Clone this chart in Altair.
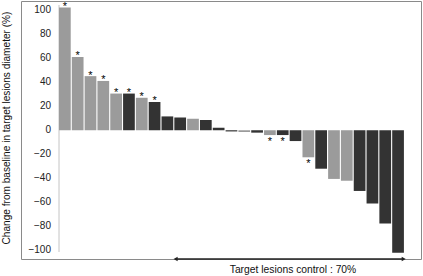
import altair as alt
import pandas as pd

# ---- data ----
patients = list(range(1, 28))
change = [102, 61, 45, 41, 30.5, 30.5, 27, 23.5, 11.5, 10.5, 9.5, 8.5, 2,
          -1, -1.5, -2, -4, -4, -9, -22.5, -32, -40.5, -42, -50.5, -61, -77.5, -102]
group = ["L", "L", "L", "L", "L", "D", "L", "D", "D", "D", "L", "D", "D",
         "D", "L", "D", "L", "D", "D", "L", "D", "L", "L", "D", "D", "D", "D"]
starred = [1, 1, 1, 1, 1, 1, 1, 1, 0, 0, 0, 0, 0,
           0, 0, 0, 1, 1, 0, 1, 0, 0, 0, 0, 0, 0, 0]
y_ticks = [-100, -80, -60, -40, -20, 0, 20, 40, 60, 80, 100]
y_title = "Change from baseline in target lesions diameter (%)"
control_label = "Target lesions control : 70%"
control_from = 9.1   # patient index where control arrow starts
control_to = 26.85

FONT = "Liberation Sans"

df = pd.DataFrame({
    "pos": [p - 1 for p in patients],
    "pos2": [p - 1 + 0.915 for p in patients],
    "mid": [p - 1 + 0.4575 for p in patients],
    "change": change,
    "group": group,
    "star": starred,
})
ticks_df = pd.DataFrame({
    "v": y_ticks,
    "label": [str(v).replace("-", "\u2212") for v in y_ticks],
})

xscale = alt.Scale(domain=[-2.965, 28.248], nice=False, zero=False)
yscale = alt.Scale(domain=[-107.1, 107.5], nice=False, zero=False)

bars = alt.Chart(df).mark_rect().encode(
    x=alt.X("pos:Q", scale=xscale, axis=None),
    x2="pos2:Q",
    y=alt.Y("change:Q", scale=yscale, axis=None),
    y2=alt.datum(0),
    color=alt.Color("group:N", scale=alt.Scale(domain=["L", "D"], range=["#9b9b9b", "#333333"]),
                    legend=None),
)

tick_labels = alt.Chart(ticks_df).mark_text(
    fontSize=10, font=FONT, color="#222", align="right", baseline="middle"
).encode(text="label:N", y=alt.Y("v:Q", axis=None), x=alt.value(30))

stars_pos = alt.Chart(df).transform_filter("datum.star == 1 && datum.change > 0").mark_text(
    text="*", fontSize=11, font=FONT, color="#000", baseline="alphabetic", dy=2.5
).encode(x=alt.X("mid:Q", axis=None), y=alt.Y("change:Q", axis=None))

stars_neg = alt.Chart(df).transform_filter("datum.star == 1 && datum.change < 0").mark_text(
    text="*", fontSize=11, font=FONT, color="#000", baseline="alphabetic", dy=9.5
).encode(x=alt.X("mid:Q", axis=None), y=alt.Y("change:Q", axis=None))

axis_line = alt.Chart(pd.DataFrame({"a": [0]})).mark_rule(color="#c4c4c4", strokeWidth=1).encode(
    x=alt.value(38), y=alt.value(4), y2=alt.value(251)
)

arrow_df = pd.DataFrame({"x": [control_from], "x2": [control_to]})
arrow_line = alt.Chart(arrow_df).mark_rule(color="#222", strokeWidth=1.4).encode(
    x=alt.X("x:Q", axis=None), x2="x2:Q", y=alt.value(258)
)
head_df = pd.DataFrame({"x": [control_from, control_to + 0.05],
                        "shape": ["triangle-left", "triangle-right"]})
heads = alt.Chart(head_df).mark_point(filled=True, color="#222", size=22, opacity=1).encode(
    x=alt.X("x:Q", axis=None), y=alt.value(258),
    shape=alt.Shape("shape:N", scale=None, legend=None),
)

ctrl_text = alt.Chart(pd.DataFrame({"t": [control_label]})).mark_text(
    fontSize=10.3, font=FONT, color="#111", baseline="middle", align="center"
).encode(text="t:N", x=alt.value(272), y=alt.value(269))

title_text = alt.Chart(pd.DataFrame({"t": [y_title]})).mark_text(
    fontSize=10.1, font=FONT, color="#111", baseline="middle", align="center", angle=270
).encode(text="t:N", x=alt.value(-14.5), y=alt.value(127))

chart = alt.layer(axis_line, bars, tick_labels, stars_pos, stars_neg, arrow_line, heads,
                  ctrl_text, title_text).properties(
    width=400, height=258,
    autosize=alt.AutoSizeParams(type="none"),
    padding={"left": 21, "top": 1, "right": 2, "bottom": 17},
    background="white",
).configure_view(stroke="#8a8a8a", strokeWidth=1)

chart.save("out.html", embed_options={"renderer": "svg", "actions": False})
